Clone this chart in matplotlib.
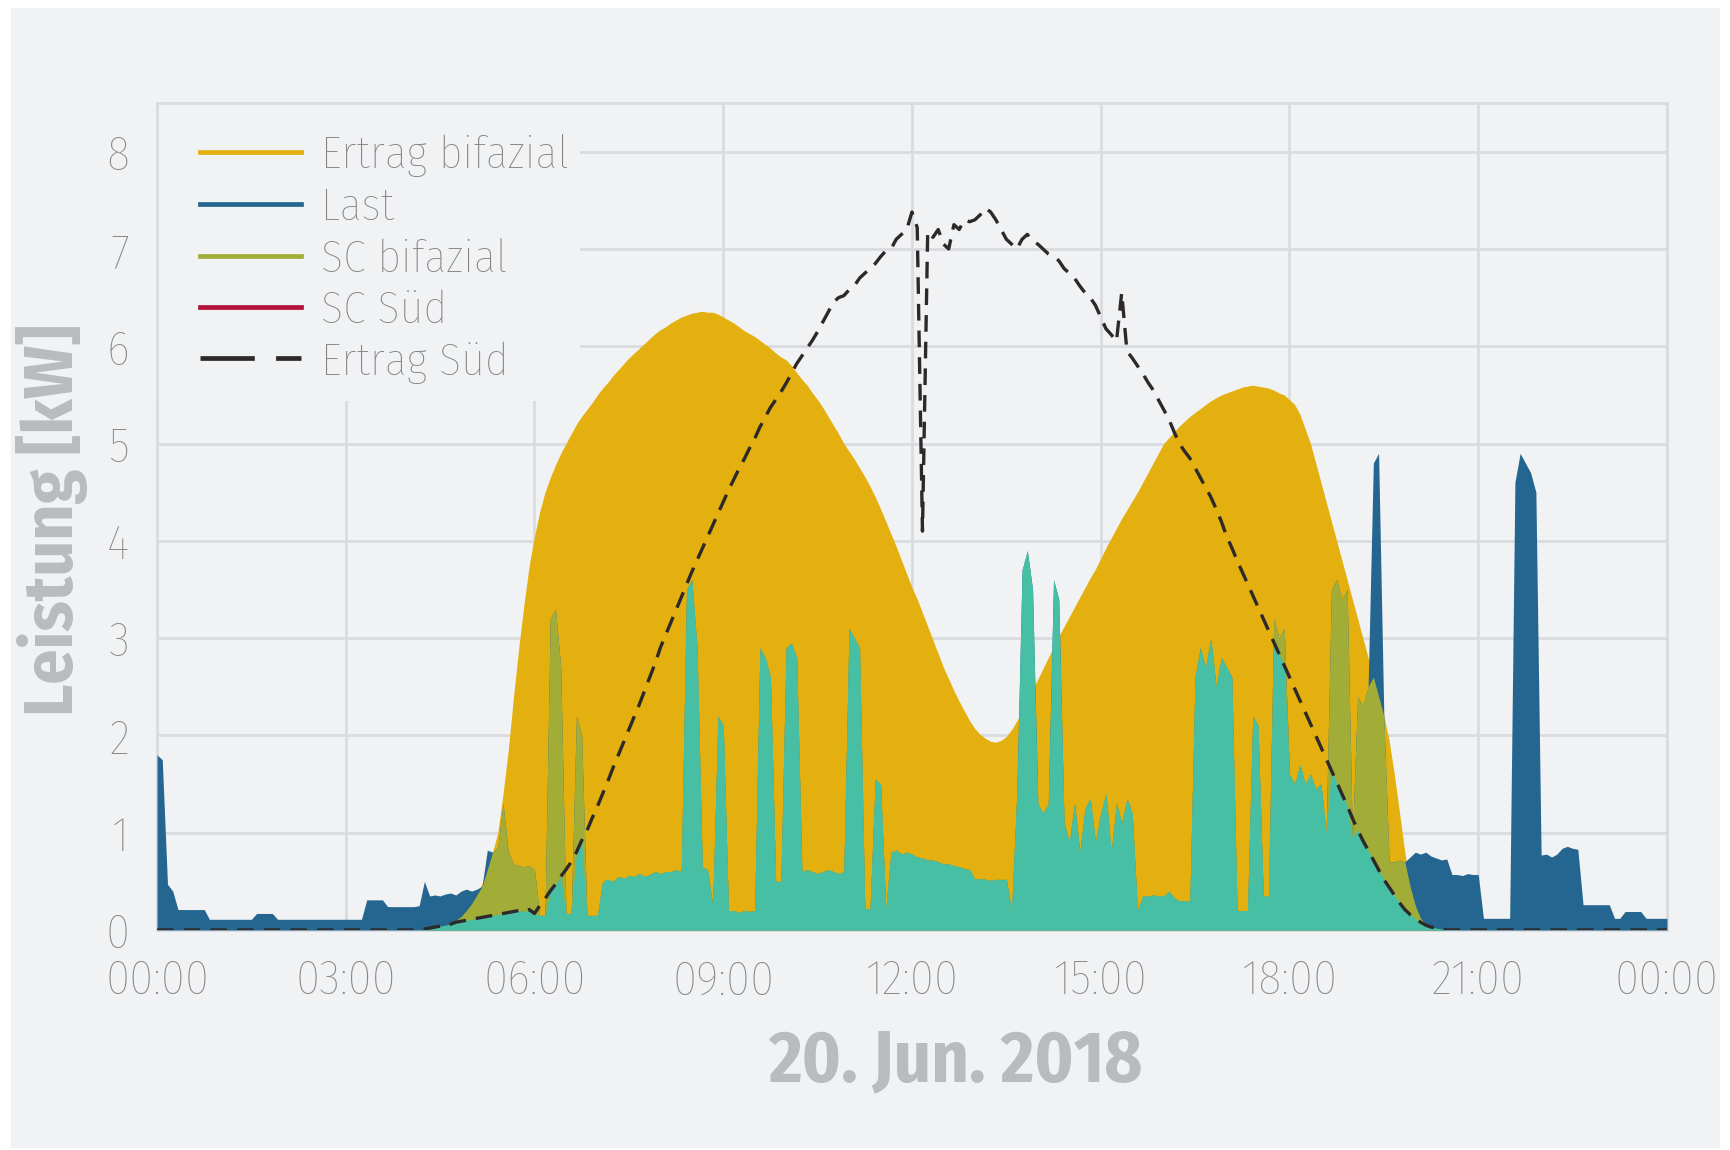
import numpy as np
import matplotlib.pyplot as plt
from matplotlib.lines import Line2D
from matplotlib.patches import Rectangle

plt.rcParams['font.family'] = ['Fira Sans Condensed', 'Roboto Condensed', 'Liberation Sans', 'DejaVu Sans']

# 5-minute samples, 00:00 .. 24:00 (289 points)
minutes = np.arange(0, 24 * 60 + 1, 5)
hours = minutes / 60.0

# Last [kW], one row per hour (12 samples)
last_kw = [
    1.80, 1.75, 0.47, 0.40, 0.21, 0.21, 0.21, 0.21, 0.21, 0.21, 0.11, 0.11,
    0.11, 0.11, 0.11, 0.11, 0.11, 0.11, 0.11, 0.17, 0.17, 0.17, 0.17, 0.11,
    0.11, 0.11, 0.11, 0.11, 0.11, 0.11, 0.11, 0.11, 0.11, 0.11, 0.11, 0.11,
    0.11, 0.11, 0.11, 0.11, 0.31, 0.31, 0.31, 0.31, 0.24, 0.24, 0.24, 0.24,
    0.24, 0.24, 0.25, 0.50, 0.35, 0.36, 0.35, 0.37, 0.38, 0.36, 0.40, 0.42,
    0.40, 0.42, 0.45, 0.82, 0.80, 0.85, 1.30, 0.80, 0.68, 0.66, 0.65, 0.66,
    0.62, 0.15, 0.15, 3.20, 3.30, 2.70, 0.17, 0.17, 2.20, 2.00, 0.15, 0.15,
    0.15, 0.50, 0.52, 0.50, 0.55, 0.53, 0.56, 0.55, 0.58, 0.55, 0.57, 0.60,
    0.58, 0.60, 0.60, 0.62, 0.60, 3.50, 3.60, 2.90, 0.65, 0.62, 0.25, 2.20,
    2.10, 0.20, 0.20, 0.18, 0.20, 0.19, 0.20, 2.90, 2.80, 2.60, 0.50, 0.50,
    2.90, 2.95, 2.80, 0.60, 0.62, 0.60, 0.58, 0.60, 0.62, 0.60, 0.58, 0.60,
    3.10, 3.00, 2.90, 0.22, 0.22, 1.55, 1.50, 0.22, 0.80, 0.82, 0.78, 0.80,
    0.78, 0.75, 0.74, 0.72, 0.72, 0.70, 0.68, 0.68, 0.66, 0.65, 0.63, 0.62,
    0.52, 0.53, 0.52, 0.51, 0.52, 0.52, 0.52, 0.20, 1.40, 3.70, 3.90, 3.50,
    1.30, 1.20, 1.30, 3.60, 3.40, 1.10, 0.90, 1.30, 0.80, 1.25, 1.35, 0.90,
    1.20, 1.40, 0.80, 1.30, 1.10, 1.35, 1.20, 0.20, 0.35, 0.35, 0.36, 0.35,
    0.35, 0.40, 0.33, 0.30, 0.30, 0.30, 2.60, 2.90, 2.70, 3.00, 2.50, 2.80,
    2.70, 2.60, 0.20, 0.20, 0.20, 2.20, 2.10, 0.35, 0.35, 3.20, 3.00, 3.10,
    1.60, 1.50, 1.70, 1.50, 1.60, 1.45, 1.50, 1.00, 3.50, 3.60, 3.40, 3.50,
    0.95, 2.40, 2.30, 2.50, 4.80, 4.90, 2.20, 0.70, 0.70, 0.72, 0.70, 0.75,
    0.80, 0.78, 0.80, 0.76, 0.74, 0.72, 0.73, 0.57, 0.57, 0.56, 0.58, 0.57,
    0.57, 0.12, 0.12, 0.12, 0.12, 0.12, 0.12, 4.60, 4.90, 4.80, 4.70, 4.50,
    0.77, 0.78, 0.75, 0.78, 0.84, 0.86, 0.84, 0.83, 0.26, 0.26, 0.26, 0.26,
    0.26, 0.26, 0.12, 0.12, 0.19, 0.19, 0.19, 0.19, 0.12, 0.12, 0.12, 0.12,
    0.12,
]

# Ertrag bifazial [kW]
ertrag_bifazial = [0.0] * 54 + [
    0.00, 0.02, 0.05, 0.10, 0.14, 0.20,
    0.27, 0.36, 0.48, 0.62, 0.80, 1.00, 1.40, 1.85, 2.40, 2.90, 3.35, 3.75,
    4.05, 4.30, 4.50, 4.65, 4.78, 4.90, 5.00, 5.10, 5.20, 5.28, 5.35, 5.42,
    5.50, 5.57, 5.63, 5.70, 5.76, 5.82, 5.88, 5.93, 5.98, 6.03, 6.08, 6.13,
    6.17, 6.20, 6.24, 6.27, 6.30, 6.32, 6.34, 6.35, 6.36, 6.35, 6.35, 6.33,
    6.30, 6.27, 6.24, 6.20, 6.16, 6.13, 6.10, 6.06, 6.02, 5.98, 5.93, 5.89,
    5.86, 5.80, 5.73, 5.66, 5.60, 5.52, 5.45, 5.37, 5.28, 5.19, 5.10, 5.00,
    4.92, 4.84, 4.75, 4.66, 4.56, 4.45, 4.33, 4.20, 4.07, 3.94, 3.80, 3.66,
    3.52, 3.40, 3.26, 3.12, 2.98, 2.84, 2.70, 2.58, 2.46, 2.35, 2.25, 2.15,
    2.07, 2.01, 1.97, 1.94, 1.93, 1.95, 1.99, 2.06, 2.15, 2.25, 2.36, 2.47,
    2.58, 2.69, 2.80, 2.91, 3.02, 3.12, 3.22, 3.32, 3.42, 3.52, 3.62, 3.71,
    3.82, 3.93, 4.03, 4.13, 4.23, 4.32, 4.41, 4.50, 4.60, 4.70, 4.80, 4.90,
    5.00, 5.06, 5.12, 5.18, 5.23, 5.28, 5.32, 5.36, 5.40, 5.44, 5.47, 5.50,
    5.52, 5.54, 5.56, 5.58, 5.59, 5.60, 5.59, 5.58, 5.57, 5.55, 5.52, 5.50,
    5.45, 5.40, 5.30, 5.15, 5.00, 4.80, 4.60, 4.40, 4.20, 4.00, 3.80, 3.60,
    3.40, 3.20, 3.00, 2.80, 2.60, 2.40, 2.20, 1.95, 1.60, 1.20, 0.80, 0.45,
    0.25, 0.12, 0.06, 0.03, 0.01,
] + [0.0] * 44

# Ertrag Sued [kW]
ertrag_sued = [0.0] * 51 + [
    0.01, 0.02, 0.03, 0.04, 0.05, 0.06, 0.08, 0.09, 0.10,
    0.11, 0.12, 0.13, 0.14, 0.15, 0.16, 0.17, 0.18, 0.19, 0.20, 0.19, 0.21,
    0.17, 0.25, 0.32, 0.40, 0.47, 0.55, 0.62, 0.70, 0.80, 0.92, 1.02, 1.15,
    1.27, 1.40, 1.53, 1.67, 1.80, 1.93, 2.06, 2.19, 2.32, 2.46, 2.60, 2.74,
    2.90, 3.03, 3.16, 3.29, 3.42, 3.55, 3.68, 3.80, 3.92, 4.04, 4.16, 4.28,
    4.40, 4.52, 4.63, 4.74, 4.84, 4.95, 5.05, 5.17, 5.27, 5.37, 5.45, 5.53,
    5.62, 5.72, 5.82, 5.90, 5.98, 6.06, 6.15, 6.25, 6.35, 6.45, 6.50, 6.52,
    6.58, 6.62, 6.70, 6.75, 6.80, 6.85, 6.92, 6.98, 7.00, 7.10, 7.15, 7.20,
    7.38, 7.22, 4.10, 7.18, 7.12, 7.20, 7.05, 7.00, 7.25, 7.20, 7.30, 7.28,
    7.30, 7.35, 7.42, 7.38, 7.30, 7.20, 7.10, 7.05, 7.00, 7.10, 7.15, 7.08,
    7.05, 7.00, 6.95, 6.92, 6.88, 6.80, 6.75, 6.70, 6.62, 6.55, 6.50, 6.42,
    6.30, 6.18, 6.12, 6.05, 6.55, 5.95, 5.88, 5.80, 5.72, 5.63, 5.55, 5.45,
    5.35, 5.25, 5.12, 5.00, 4.92, 4.85, 4.75, 4.65, 4.55, 4.45, 4.33, 4.20,
    4.05, 3.93, 3.80, 3.68, 3.56, 3.44, 3.32, 3.20, 3.08, 2.96, 2.84, 2.72,
    2.60, 2.48, 2.36, 2.24, 2.12, 2.00, 1.88, 1.76, 1.64, 1.52, 1.40, 1.28,
    1.15, 1.03, 0.92, 0.82, 0.72, 0.62, 0.52, 0.44, 0.36, 0.28, 0.21, 0.16,
    0.12, 0.08, 0.05, 0.03, 0.02, 0.01,
] + [0.0] * 43

xtick_pos = [0, 3, 6, 9, 12, 15, 18, 21, 24]
xtick_labels = ['00:00', '03:00', '06:00', '09:00', '12:00', '15:00', '18:00', '21:00', '00:00']
legend_labels = ['Ertrag bifazial', 'Last', 'SC bifazial', 'SC Süd', 'Ertrag Süd']

last = np.array(last_kw)
bif = np.array(ertrag_bifazial)
sued = np.array(ertrag_sued)
sc_bif = np.minimum(last, bif)
sc_sued = np.minimum(last, sued)

BG = '#f1f2f4'
GRID = '#d9dbde'
C_GOLD = '#e3b00f'
C_BLUE = '#24668f'
C_OLIVE = '#a2ad38'
C_TEAL = '#47bfa4'
C_RED = '#b3123d'
C_DARK = '#2e2929'

fig = plt.figure(figsize=(17.31, 11.5), dpi=100, facecolor='white')
fig.patches.append(Rectangle((11 / 1731, 0.002), (1720 - 11) / 1731, 1 - 8 / 1150 - 0.002,
                             transform=fig.transFigure, facecolor=BG, edgecolor='none', zorder=-10))

ax = fig.add_axes([0.0907, 0.1913, 0.8723, 0.7191])
ax.set_facecolor(BG)

# legend area hides the grid, but not the data
ax.add_patch(Rectangle((0, 0.64), 0.28, 0.36, transform=ax.transAxes,
                       facecolor=BG, edgecolor='none', zorder=1))

ax.fill_between(hours, 0, bif, color=C_GOLD, lw=0, zorder=2)
ax.fill_between(hours, 0, last, color=C_BLUE, lw=0, zorder=3)
ax.fill_between(hours, 0, sc_bif, color=C_OLIVE, lw=0, zorder=4)
ax.fill_between(hours, 0, sc_sued, color=C_TEAL, lw=0, zorder=5)
ax.plot(hours, sued, color=C_DARK, lw=2.4, dashes=(5, 3), zorder=6)

ax.set_xlim(0, 24)
ax.set_ylim(0, 8.5)
ax.set_xticks(xtick_pos)
ax.set_xticklabels(xtick_labels)
ax.set_yticks(range(0, 9))
ax.tick_params(axis='both', length=0, labelsize=35, colors='#878787')
ax.tick_params(axis='x', pad=20)
ax.tick_params(axis='y', pad=20)
for t in ax.get_xticklabels() + ax.get_yticklabels():
    t.set_fontweight('light')
ax.grid(True, color=GRID, lw=2)
ax.set_axisbelow(True)
for s in ax.spines.values():
    s.set_color(GRID)
    s.set_linewidth(2)

handles = [
    Line2D([], [], color=C_GOLD, lw=3.4),
    Line2D([], [], color=C_BLUE, lw=3.4),
    Line2D([], [], color=C_OLIVE, lw=3.4),
    Line2D([], [], color=C_RED, lw=3.4),
    Line2D([], [], color=C_DARK, lw=3.4, dashes=(11.5, 4.5)),
]
leg = ax.legend(handles, legend_labels, loc='upper left', bbox_to_anchor=(0.0147, 0.987),
                borderaxespad=0, borderpad=0.45, fontsize=33, frameon=False,
                handlelength=2.2, handletextpad=0.45, labelspacing=0.2)
for t in leg.get_texts():
    t.set_color('#828282')
    t.set_fontweight('light')
leg.set_zorder(10)

fig.text(0.030, 0.548, 'Leistung [kW]', rotation=90, ha='center', va='center',
         fontsize=50, fontweight='bold', color='#b9bbbe')
fig.text(0.552, 0.077, '20. Jun. 2018', ha='center', va='center',
         fontsize=52, fontweight='bold', color='#b9bbbe')

fig.savefig('out.png', dpi=100, facecolor='white')
